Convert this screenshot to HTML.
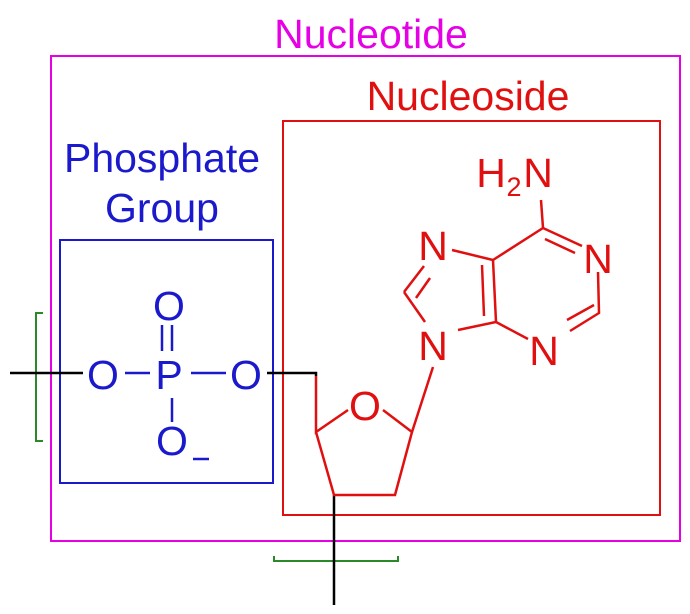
<!DOCTYPE html>
<html><head><style>body{margin:0;background:#fff}svg{display:block}text{font-family:"Liberation Sans",sans-serif}</style></head><body>
<svg width="690" height="614" viewBox="0 0 690 614" xmlns="http://www.w3.org/2000/svg">
<rect x="51" y="56" width="629" height="485" fill="none" stroke="#e600e6" stroke-width="2"/>
<text x="371" y="48" font-size="41" fill="#e600e6" text-anchor="middle">Nucleotide</text>
<rect x="283" y="121" width="377" height="394" fill="none" stroke="#e01010" stroke-width="2"/>
<text x="468" y="110" font-size="41" fill="#e01010" text-anchor="middle">Nucleoside</text>
<rect x="60" y="240" width="213" height="243" fill="none" stroke="#1a1acc" stroke-width="2"/>
<text x="162" y="172" font-size="41" fill="#1a1acc" text-anchor="middle">Phosphate</text>
<text x="162" y="222" font-size="41" fill="#1a1acc" text-anchor="middle">Group</text>
<path d="M43,313 H36 V441 H43" fill="none" stroke="#2a8a2a" stroke-width="2"/>
<path d="M274,556 V561 H398 V556" fill="none" stroke="#2a8a2a" stroke-width="2"/>
<g stroke="#000" stroke-width="2.5" fill="none">
<path d="M10,373 H83"/>
<path d="M267,373 H316 V376"/>
<path d="M334,495 V605"/>
</g>
<g stroke="#1a1acc" stroke-width="2.5" fill="none">
<path d="M125,373 H150 M191,373 H226"/>
<path d="M162,325 V351 M172,325 V351"/>
<path d="M172,398 V422"/>
<path d="M193,459 H209"/>
</g>
<g fill="#1a1acc" font-size="41" text-anchor="middle">
<text x="103" y="389">O</text>
<text x="169" y="389">P</text>
<text x="246" y="389">O</text>
<text x="169" y="320">O</text>
<text x="172" y="455">O</text>
</g>
<g stroke="#e01010" stroke-width="2.5" fill="none">
<path d="M316,376 V432 L348,410 M383,410 L412,432 L395,495 H334 L316,432"/>
<path d="M412,432 L433,367"/>
<path d="M404,292 L424,266 M416,298 L430,278"/>
<path d="M404,292 L425,322"/>
<path d="M458,330 L496,322 L493,260 L452,250 M484,316 L482,265"/>
<path d="M493,260 L543,228 L582,246 M545,239 L575,253"/>
<path d="M598,272 L599,313 L570,331 M594,305 L567,320"/>
<path d="M496,322 L528,339"/>
<path d="M543,228 L541,200"/>
</g>
<g fill="#e01010" font-size="41" text-anchor="middle">
<text x="365" y="420">O</text>
<text x="433" y="360">N</text>
<text x="433" y="260">N</text>
<text x="598" y="273">N</text>
<text x="544" y="365">N</text>
<text x="491" y="187">H</text>
<text x="538" y="187">N</text>
<text x="514" y="196" font-size="27">2</text>
</g>
</svg>
</body></html>
